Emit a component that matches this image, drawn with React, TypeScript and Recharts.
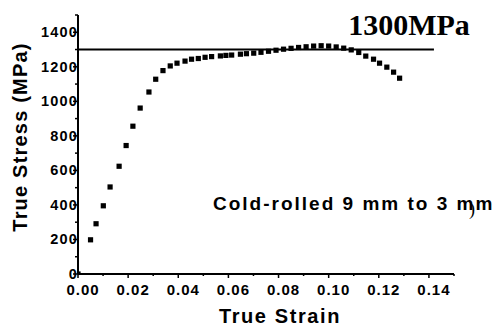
import React from 'react';
import { ScatterChart, Scatter, XAxis, YAxis, ReferenceLine } from 'recharts';

const strain = [0, 0.005, 0.0072, 0.0101, 0.0128, 0.0164, 0.0192, 0.0219, 0.0248, 0.0283, 0.031, 0.0339, 0.0368, 0.0395, 0.0427, 0.0453, 0.048, 0.0507, 0.0533, 0.0568, 0.059, 0.0613, 0.0648, 0.0672, 0.0701, 0.073, 0.076, 0.079, 0.082, 0.085, 0.088, 0.091, 0.094, 0.097, 0.1, 0.103, 0.106, 0.109, 0.112, 0.1148, 0.1179, 0.1203, 0.1232, 0.1259, 0.1283];
const stress = [0, 198, 291, 395, 504, 624, 744, 856, 961, 1054, 1128, 1178, 1205, 1221, 1233, 1244, 1248, 1255, 1259, 1263, 1266, 1268, 1273, 1276, 1279, 1284, 1290, 1296, 1302, 1307, 1312, 1316, 1320, 1322, 1320, 1315, 1308, 1298, 1283, 1262, 1244, 1221, 1198, 1169, 1134];
const xTicks = [0, 0.01, 0.02, 0.03, 0.04, 0.05, 0.06, 0.07, 0.08, 0.09, 0.1, 0.11, 0.12, 0.13, 0.14, 0.15];
const yTicks = [0, 100, 200, 300, 400, 500, 600, 700, 800, 900, 1000, 1100, 1200, 1300, 1400, 1500];
const limitStress = 1300;
const limitEnd = 0.142;

const data = strain.map((s, i) => ({ x: s, y: stress[i] }));

const SANS = '"Liberation Sans", Arial, sans-serif';
const SERIF = '"Liberation Serif", "Times New Roman", serif';

const Square = (p: any) => (
  <rect x={p.cx - 2.6} y={p.cy - 2.6} width={5.2} height={5.2} fill="#000" />
);

const XTick = (p: any) => {
  const v = p.payload.value;
  const major = Math.round(v * 1000) % 20 === 0 && v <= 0.14 + 1e-9;
  return (
    <g>
      <line x1={p.x} x2={p.x} y1={p.y} y2={p.y + (major ? 4 : 2)} stroke="#000" strokeWidth={1.5} />
      {major && (
        <text x={p.x + 5} y={p.y + 21} textAnchor="middle" fontFamily={SANS} fontWeight="bold" fontSize={15} letterSpacing={1} fill="#000">
          {v.toFixed(2)}
        </text>
      )}
    </g>
  );
};

const YTick = (p: any) => {
  const v = p.payload.value;
  const major = v % 200 === 0 && v <= 1400;
  return (
    <g>
      <line x1={p.x} x2={p.x - (major ? 5 : 3)} y1={p.y} y2={p.y} stroke="#000" strokeWidth={1.5} />
      {major && (
        <text x={p.x} y={p.y + 5} textAnchor="end" fontFamily={SANS} fontWeight="bold" fontSize={14.5} letterSpacing={1.2} fill="#000">
          {v}
        </text>
      )}
    </g>
  );
};

export default function App() {
  return (
    <div style={{ position: 'absolute', left: 0, top: 0, width: 504, height: 327, background: '#fff' }}>
      <ScatterChart width={504} height={327} margin={{ top: 15, right: 50, bottom: 0, left: 0 }}>
        <XAxis
          type="number"
          dataKey="x"
          domain={[0, 0.15]}
          ticks={xTicks}
          interval={0}
          height={53}
          tickSize={0}
          tickMargin={0}
          tick={<XTick />}
          axisLine={{ stroke: '#000', strokeWidth: 2 }}
          tickLine={false}
          allowDataOverflow
        />
        <YAxis
          type="number"
          dataKey="y"
          domain={[0, 1500]}
          ticks={yTicks}
          interval={0}
          width={78}
          tickSize={0}
          tickMargin={0}
          tick={<YTick />}
          axisLine={{ stroke: '#000', strokeWidth: 2 }}
          tickLine={false}
          allowDataOverflow
        />
        <ReferenceLine
          segment={[{ x: 0, y: limitStress }, { x: limitEnd, y: limitStress }]}
          stroke="#000"
          strokeWidth={2}
          ifOverflow="visible"
        />
        <Scatter data={data} fill="#000" shape={<Square />} isAnimationActive={false} />
      </ScatterChart>
      <svg width={504} height={327} style={{ position: 'absolute', left: 0, top: 0, pointerEvents: 'none' }}>
        <text x={409} y={35} textAnchor="middle" fontFamily={SERIF} fontWeight="bold" fontSize={30} fill="#000">1300MPa</text>
        <text x={213} y={210} fontFamily={SANS} fontWeight="bold" fontSize={19} letterSpacing={2} fill="#000">Cold-rolled 9 mm to 3 mm</text>
        <text x={469} y={215} fontFamily={SERIF} fontSize={18} fill="#000">)</text>
        <text x={280} y={323} textAnchor="middle" fontFamily={SANS} fontWeight="bold" fontSize={20} letterSpacing={1.6} fill="#000">True Strain</text>
        <text x={27} y={137} transform="rotate(-90 27 137)" textAnchor="middle" fontFamily={SANS} fontWeight="bold" fontSize={20} letterSpacing={1.2} fill="#000">True Stress (MPa)</text>
      </svg>
    </div>
  );
}
